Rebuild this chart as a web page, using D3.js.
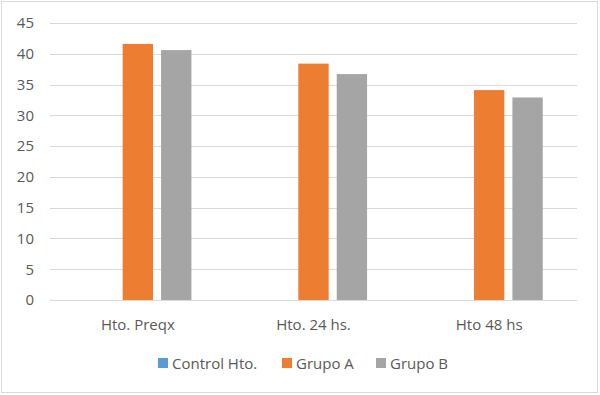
<!DOCTYPE html>
<html>
<head>
<meta charset="utf-8">
<script src="https://cdn.jsdelivr.net/npm/d3@7"></script>
<style>
  body { margin: 0; background: #fff; }
  text { font-family: "Open Sans", "Liberation Sans", sans-serif; fill: #595959; }
</style>
</head>
<body>
<div id="chart"></div>
<script>
var categories = ["Hto. Preqx", "Hto. 24 hs.", "Hto 48 hs"];
var seriesNames = ["Control Hto.", "Grupo A", "Grupo B"];
var controlHto = [0, 0, 0];
var grupoA = [41.6, 38.4, 34.1];
var grupoB = [40.6, 36.7, 32.9];
var yTicks = [0, 5, 10, 15, 20, 25, 30, 35, 40, 45];
var colors = ["#5B9BD5", "#ED7D31", "#A5A5A5"];

var width = 600, height = 395;
var margin = {top: 23, right: 23, bottom: 95, left: 50};
var innerWidth = width - margin.left - margin.right,
    innerHeight = height - margin.top - margin.bottom;

var seriesValues = [controlHto, grupoA, grupoB];

var svg = d3.select("#chart").append("svg")
    .attr("width", width)
    .attr("height", height);

// outer border
svg.append("rect")
    .attr("x", 1.5).attr("y", 1.5)
    .attr("width", width - 4).attr("height", height - 4)
    .attr("fill", "#fff")
    .attr("stroke", "#d9d9d9");

var g = svg.append("g")
    .attr("transform", "translate(" + margin.left + "," + margin.top + ")");

var x0 = d3.scaleBand().domain(categories).range([0, innerWidth]).paddingInner(0.39).paddingOuter(0.195);
var x1 = d3.scaleBand().domain(seriesNames).range([0, x0.bandwidth()]).paddingInner(0.21);
var y = d3.scaleLinear().domain([0, 45]).range([innerHeight, 0]);

// gridlines
g.selectAll(".grid")
    .data(yTicks)
    .enter().append("line")
    .attr("x1", 0).attr("x2", innerWidth)
    .attr("y1", function(d) { return Math.round(y(d)) + 0.5; })
    .attr("y2", function(d) { return Math.round(y(d)) + 0.5; })
    .attr("stroke", "#d9d9d9")
    .attr("stroke-width", 1);

// y labels
var yAxis = g.append("g")
    .call(d3.axisLeft(y).tickValues(yTicks).tickSize(0).tickPadding(16));
yAxis.select(".domain").remove();
yAxis.selectAll("text").style("font-size", "15px").attr("fill", "#595959");

// x labels
var xAxis = g.append("g")
    .attr("transform", "translate(0," + innerHeight + ")")
    .call(d3.axisBottom(x0).tickSize(0).tickPadding(19));
xAxis.select(".domain").remove();
xAxis.selectAll("text").style("font-size", "15px").attr("fill", "#595959");

// bars
var groups = g.selectAll(".cat")
    .data(categories)
    .enter().append("g")
    .attr("transform", function(d) { return "translate(" + x0(d) + ",0)"; });

groups.selectAll("rect")
    .data(function(d, i) {
        return seriesNames.map(function(s, j) { return {series: s, value: seriesValues[j][i], color: colors[j]}; });
    })
    .enter().append("rect")
    .attr("x", function(d) { return x1(d.series); })
    .attr("y", function(d) { return y(d.value); })
    .attr("width", x1.bandwidth())
    .attr("height", function(d) { return innerHeight - y(d.value); })
    .attr("fill", function(d) { return d.color; });

// legend
var legendX = [158, 282, 376];
var legend = svg.append("g");
var items = legend.selectAll("g")
    .data(seriesNames)
    .enter().append("g")
    .attr("transform", function(d, i) { return "translate(" + legendX[i] + ",358)"; });
items.append("rect")
    .attr("width", 10).attr("height", 10)
    .attr("fill", function(d, i) { return colors[i]; });
items.append("text")
    .attr("x", 14).attr("y", 10.5)
    .style("font-size", "15px")
    .text(function(d) { return d; });
</script>
</body>
</html>
